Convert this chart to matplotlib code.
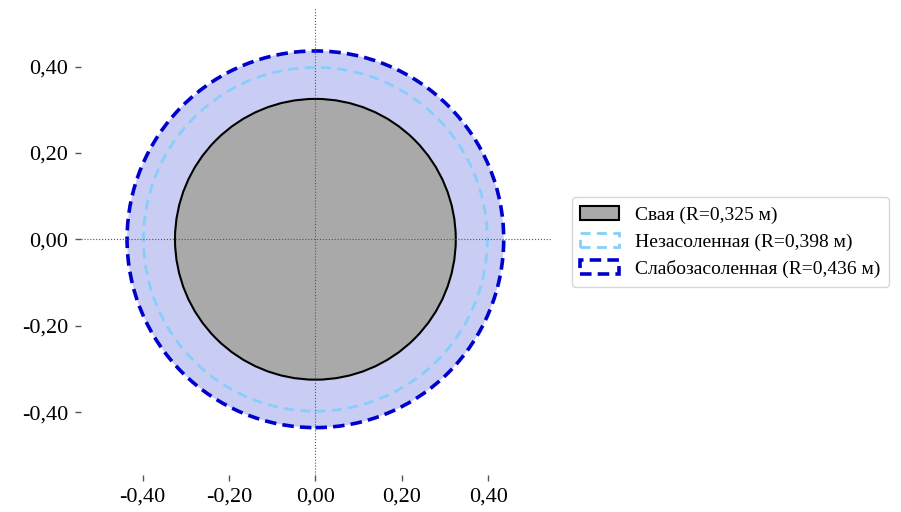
import matplotlib
matplotlib.use("Agg")
import matplotlib.pyplot as plt
from matplotlib.patches import Circle
from matplotlib.ticker import FuncFormatter, FixedLocator

plt.rcParams['font.family'] = ['Liberation Serif', 'DejaVu Serif']

# Radii of the pile and of the influence zones, m
labels = ["Свая (R=0,325 м)", "Незасоленная (R=0,398 м)", "Слабозасоленная (R=0,436 м)"]
radii = [0.325, 0.398, 0.436]
ticks = [-0.40, -0.20, 0.00, 0.20, 0.40]

fig = plt.figure(figsize=(9.01, 5.12), dpi=100)
ax = fig.add_axes([0.089, 0.072, 0.524, 0.912])

# shaded zone around the pile
ax.add_patch(Circle((0, 0), radii[2], facecolor="#c9cdf3", edgecolor="none", zorder=1))

ax.add_patch(Circle((0, 0), radii[2], fill=False, edgecolor="#0000cd", linewidth=2.6,
                    linestyle=(0, (3.2, 1.7)), label=labels[2], zorder=3))
ax.add_patch(Circle((0, 0), radii[1], fill=False, edgecolor="#87cefa", linewidth=2.0,
                    linestyle=(0, (3.6, 2.3)), label=labels[1], zorder=3))
ax.add_patch(Circle((0, 0), radii[0], facecolor="#a9a9a9", edgecolor="black", linewidth=1.5,
                    label=labels[0], zorder=4))

ax.axhline(0, color="#555555", linestyle=":", linewidth=0.8, zorder=5)
ax.axvline(0, color="#555555", linestyle=":", linewidth=0.8, zorder=5)

ax.set_xlim(-0.543, 0.547)
ax.set_ylim(-0.546, 0.535)
ax.set_aspect("equal", adjustable="box")

fmt = FuncFormatter(lambda v, p: f"{v:.2f}".replace(".", ",").replace("-0,00", "0,00"))
ax.xaxis.set_major_locator(FixedLocator(ticks))
ax.yaxis.set_major_locator(FixedLocator(ticks))
ax.xaxis.set_major_formatter(fmt)
ax.yaxis.set_major_formatter(fmt)
ax.tick_params(labelsize=16, length=4, width=1, color="#555555", pad=5)

for s in ax.spines.values():
    s.set_visible(False)

h, l = ax.get_legend_handles_labels()
hd = dict(zip(l, h))
ax.legend([hd[x] for x in labels], labels, loc="center left", bbox_to_anchor=(1.022, 0.5),
          fontsize=14, frameon=True, handlelength=2.0, handleheight=0.8, borderpad=0.45,
          labelspacing=0.45, handletextpad=0.8)

fig.savefig("out.png", dpi=100)
